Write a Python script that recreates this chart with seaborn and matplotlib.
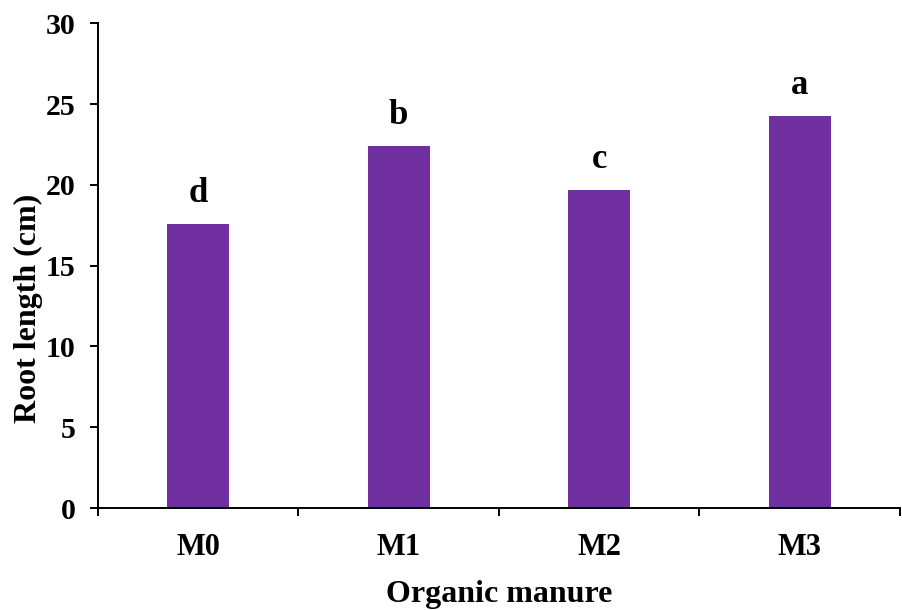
import matplotlib
matplotlib.use("Agg")
import matplotlib.pyplot as plt
import seaborn as sns
import pandas as pd

categories = ["M0", "M1", "M2", "M3"]
root_length = [17.6, 22.4, 19.7, 24.25]
letters = ["d", "b", "c", "a"]

sns.set_theme(style="white")
plt.rcParams['font.family'] = ['Liberation Serif', 'DejaVu Serif']
plt.rcParams['font.weight'] = 'bold'

df = pd.DataFrame({"cat": categories, "val": root_length})

fig = plt.figure(figsize=(9.02, 6.10), dpi=100)
ax = fig.add_axes([0.1086, 0.167, 0.889, 0.795])
sns.barplot(data=df, x="cat", y="val", color="#7030A0", width=0.31,
            saturation=1, ax=ax, edgecolor="none")

ax.set_xlim(-0.5, 3.5)
ax.set_ylim(0, 30)
ax.set_yticks([0, 5, 10, 15, 20, 25, 30])
for s in ["top", "right"]:
    ax.spines[s].set_visible(False)
for s in ["left", "bottom"]:
    ax.spines[s].set_color("black")
    ax.spines[s].set_linewidth(1.4)

ax.set_xticks(range(len(categories)))
ax.set_xticklabels(categories)
ax.set_xticks([-0.5, 0.5, 1.5, 2.5, 3.5], minor=True)
ax.tick_params(axis="x", which="major", length=0, pad=18, labelsize=22)
ax.tick_params(axis="x", which="minor", length=6, width=1.4, color="black", direction="out", bottom=True)
ax.tick_params(axis="y", length=6, width=1.4, color="black", direction="out", left=True, labelsize=21.5, pad=10)
for lab in ax.get_xticklabels() + ax.get_yticklabels():
    lab.set_fontweight("bold")
    lab.set_color("black")

for i, (v, l) in enumerate(zip(root_length, letters)):
    ax.annotate(l, (i, v), xytext=(0, 10), textcoords="offset points",
                ha="center", va="bottom", fontsize=25, fontweight="bold", color="black")

ax.set_xlabel("Organic manure", fontsize=23, fontweight="bold", color="black", labelpad=13)
ax.set_ylabel("Root length (cm)", fontsize=23, fontweight="bold", color="black")
ax.yaxis.set_label_coords(-0.069, 0.412)

fig.savefig("out.png", dpi=100)
